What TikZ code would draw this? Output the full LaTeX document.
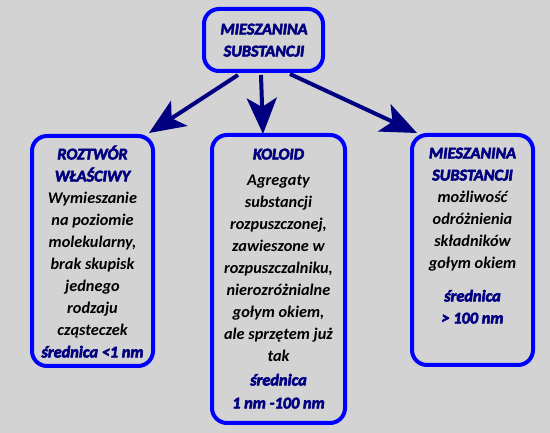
\documentclass[tikz,border=0pt]{standalone}
\usepackage{fontspec}
\setmainfont{Carlito}
\newfontfamily\hdfont{Carlito}[BoldItalicFeatures={FakeBold=3.5}]
\usetikzlibrary{arrows.meta,calc}
\definecolor{bg}{RGB}{211,211,211}
\definecolor{boxblue}{RGB}{0,0,255}
\definecolor{navyc}{RGB}{0,0,128}
\newcommand\hdtxt[1]{{\hdfont\bfseries\itshape\textcolor{navyc}{#1}}}
\begin{document}
\begin{tikzpicture}[x=1pt,y=-1pt,
  panel/.style={draw=boxblue, line width=4pt, rounded corners=15pt, fill=bg, inner sep=0pt},
  txt/.style={align=center, font=\fontsize{16.3}{22}\selectfont\bfseries\itshape, inner sep=0pt, anchor=north},
  conn/.style={draw=navyc, line width=4pt, -{Stealth[length=36pt,width=30pt,inset=9pt]}}]
\fill[bg] (0,0) rectangle (550,433);
\useasboundingbox (0,0) rectangle (550,433);
% boxes
\node[panel, minimum width=119pt, minimum height=62pt] (top) at (263.5,40) {};
\node[panel, minimum width=121pt, minimum height=230pt] (b1) at (92.5,251) {};
\node[panel, minimum width=133pt, minimum height=288pt] (b2) at (278.5,279) {};
\node[panel, minimum width=121pt, minimum height=230pt] (b3) at (472.5,250) {};
% texts
\node[txt] (ttop) at (264,18.8) {\strut\hdtxt{MIESZANINA}\\\hdtxt{SUBSTANCJI}};
\node[txt] (t1) at (92.5,143.8) {\strut\hdtxt{ROZTWÓR}\\\hdtxt{WŁAŚCIWY}\\Wymieszanie\\na poziomie\\molekularny,\\brak skupisk\\jednego\\rodzaju\\cząsteczek\\\hdtxt{średnica <1 nm}};
\node[txt] (t2) at (278.5,143.8) {\strut\hdtxt{KOLOID}\\[4pt]Agregaty\\substancji\\rozpuszczonej,\\zawieszone w\\rozpuszczalniku,\\nierozróżnialne\\gołym okiem,\\ale sprzętem już\\tak\\[2pt]\hdtxt{średnica}\\[1pt]\hdtxt{1 nm -100 nm}};
\node[txt] (t3) at (472.5,142.8) {\strut\hdtxt{MIESZANINA}\\\hdtxt{SUBSTANCJI}\\możliwość\\odróżnienia\\składników\\gołym okiem\\[11pt]\hdtxt{średnica}\\\hdtxt{> 100 nm}};
% connectors
\draw[conn] ($(top.south)+(-25.5,2)$) -- ($(b1.north east)+(-6,-1)$);
\draw[conn] ($(top.south)+(-2.5,2)$) -- ($(b2.north)+(-15.5,1)$);
\draw[conn] ($(top.south)+(26.5,1)$) -- ($(b3.north west)+(7,0)$);
\end{tikzpicture}
\end{document}
